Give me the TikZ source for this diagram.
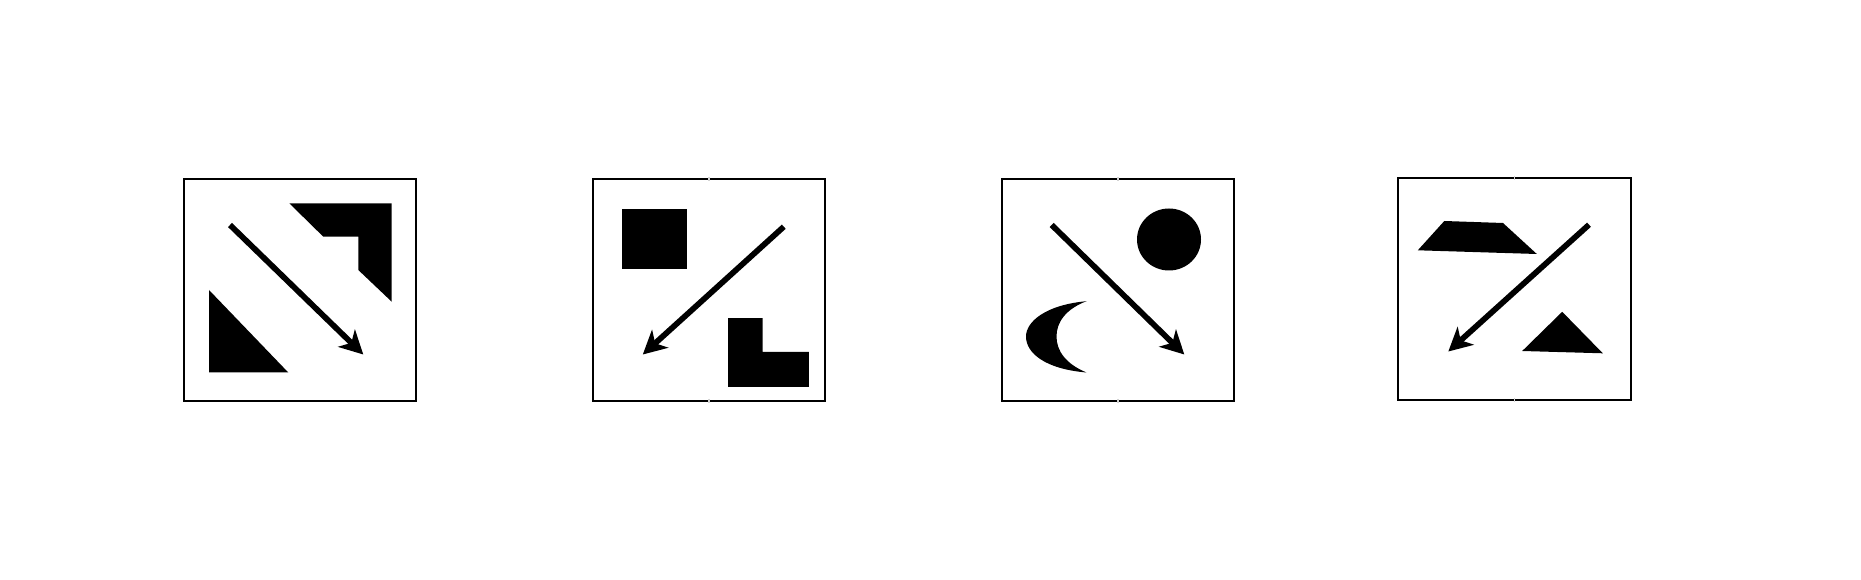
\documentclass[tikz,border=0pt]{standalone}
\usetikzlibrary{arrows.meta}
\begin{document}
\begin{tikzpicture}[x=0.75pt,y=-0.75pt,
  panel/.style={draw=black,line width=0.8pt,fill=white},
  blob/.style={fill=black,draw=none},
  arr/.style={line width=4.3pt,-{Stealth[length=17.5pt,width=18pt,inset=5pt]}},
  gapmark/.style={draw=gray!35,line width=0.8pt}]
\useasboundingbox (0,0) rectangle (1861,580);

% ---------- Panel 1 ----------
\draw[panel] (184,179) rectangle (416,401);
\fill[blob] (289.3,203.3) -- (391.7,203.3) -- (391.7,301.7) -- (358.3,270) -- (358.3,236.7) -- (323.3,236.7) -- cycle;
\fill[blob] (209,290) -- (209,372.5) -- (288.3,372.5) -- cycle;
\coordinate (a1s) at (230,225);
\coordinate (a1e) at (363.3,354.5);
\draw[arr] (a1s) -- (a1e);

% ---------- Panel 2 ----------
\draw[panel] (593,179) rectangle (825,401);
\draw[gapmark] (709,177) -- (709,181);
\draw[gapmark] (709,399) -- (709,403);
\fill[blob] (621.7,209.2) rectangle (686.9,269.4);
\fill[blob] (728,318.2) -- (762.5,318.2) -- (762.5,352) -- (808.8,352) -- (808.8,386.8) -- (728,386.8) -- cycle;
\coordinate (a2s) at (783.8,226.7);
\coordinate (a2e) at (642.8,354.5);
\draw[arr] (a2s) -- (a2e);

% ---------- Panel 3 ----------
\draw[panel] (1002,179) rectangle (1234,401);
\draw[gapmark] (1118,177) -- (1118,181);
\draw[gapmark] (1118,399) -- (1118,403);
\fill[blob] (1169,239.5) ellipse [x radius=32,y radius=31];
\fill[blob] (1086.5,301.2) .. controls (1045,305) and (1026,322) .. (1026,336.5)
   .. controls (1026,353) and (1045,369) .. (1086.5,372.5)
   .. controls (1066,364) and (1056.5,351) .. (1056.5,336.5)
   .. controls (1056.5,322) and (1066,309) .. (1086.5,301.2) -- cycle;
\coordinate (a3s) at (1051.7,225);
\coordinate (a3e) at (1184.3,354.5);
\draw[arr] (a3s) -- (a3e);

% ---------- Panel 4 ----------
\draw[panel] (1398,178) rectangle (1631,400);
\draw[gapmark] (1514.5,176) -- (1514.5,180);
\draw[gapmark] (1514.5,398) -- (1514.5,402);
\fill[blob] (1444.3,221) -- (1503,223) -- (1536.8,254) -- (1417.8,250.3) -- cycle;
\fill[blob] (1562.2,311.8) -- (1602.8,353.3) -- (1522.2,351) -- cycle;
\coordinate (a4s) at (1589,224.7);
\coordinate (a4e) at (1448.3,351.5);
\draw[arr] (a4s) -- (a4e);
\end{tikzpicture}
\end{document}
